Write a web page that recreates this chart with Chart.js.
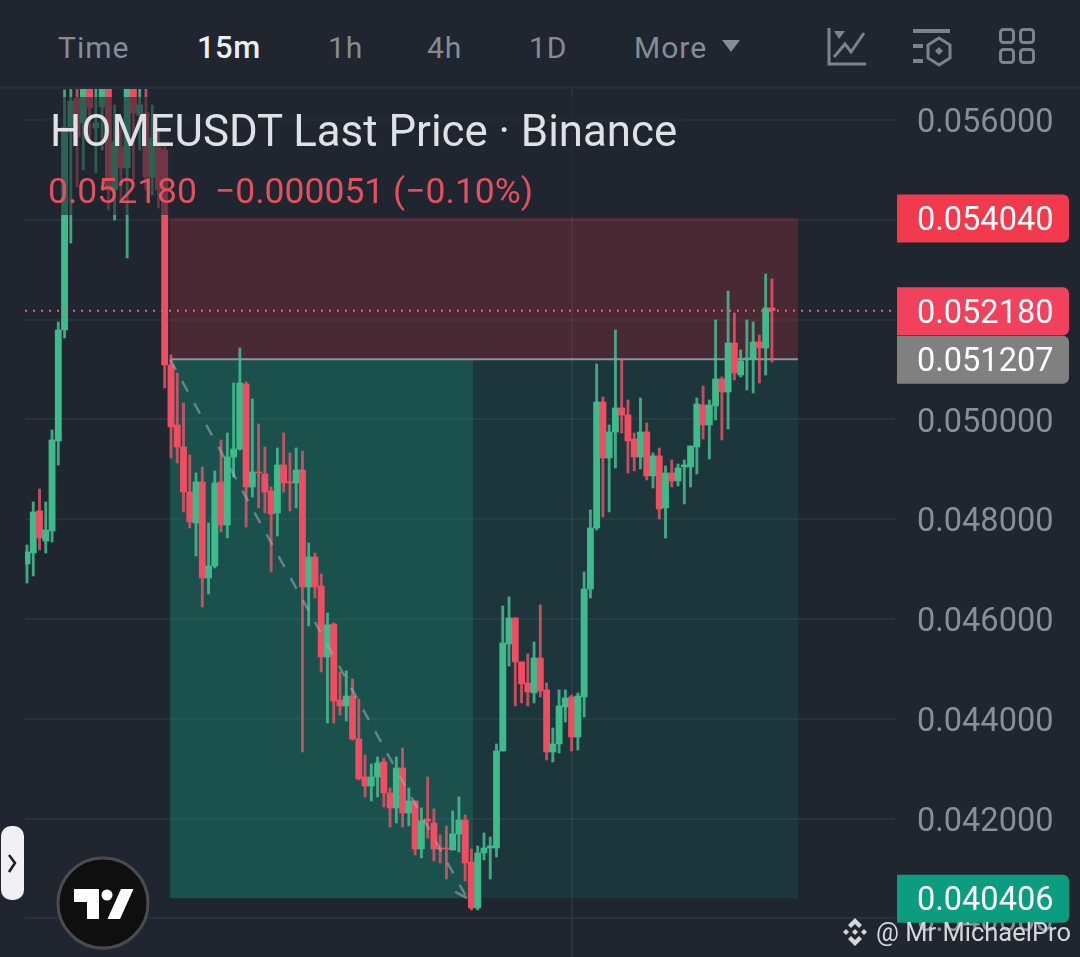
<!DOCTYPE html>
<html>
<head>
<meta charset="utf-8">
<title>HOMEUSDT</title>
<script src="https://cdn.jsdelivr.net/npm/chart.js@4/dist/chart.umd.min.js"></script>
<style>
  html, body { margin: 0; padding: 0; background: #1f2630; }
  #page { position: relative; width: 1080px; height: 957px; overflow: hidden; background: #1f2630; font-family: Roboto, sans-serif; }
  #priceChart { position: absolute; left: 0; top: 87px; }
  .tab { position: absolute; top: 30px; font-size: 30px; line-height: 36px; letter-spacing: 1px; color: #868c95; }
  .tab.active { color: #eceef1; font-size: 31px; font-weight: 500; letter-spacing: 0.5px; }
  #divider { position: absolute; left: 0; top: 86px; width: 1080px; height: 3px; background: #262d37; }
  #legendShade { position: absolute; left: 45px; top: 97px; width: 640px; height: 118px; background: rgba(31, 38, 48, 0.6); }
  #legendTitle { position: absolute; left: 50px; top: 107px; font-size: 43.8px; line-height: 48px; color: #dfe1e5; white-space: nowrap; }
  .legendValue { position: absolute; top: 172px; font-size: 35.5px; line-height: 38px; color: #e5505f; white-space: nowrap; }
  #handle { position: absolute; left: 1px; top: 826px; width: 23px; height: 74px; background: #f1f1f3; border-radius: 10px; }
  #watermark { position: absolute; left: 876px; top: 916px; font-size: 25.5px; line-height: 32px; color: #d4d6da; white-space: nowrap; }
  svg { position: absolute; left: 0; top: 0; }
</style>
</head>
<body>
<div id="page">
  <canvas id="priceChart" width="1080" height="870"></canvas>
  <div id="divider"></div>
  <div class="tab" style="left:58px">Time</div>
  <div class="tab active" style="left:197px">15m</div>
  <div class="tab" style="left:328px">1h</div>
  <div class="tab" style="left:427px">4h</div>
  <div class="tab" style="left:529px">1D</div>
  <div class="tab" style="left:634px">More</div>
  <div id="legendShade"></div>
  <div id="legendTitle">HOMEUSDT Last Price · Binance</div>
  <div class="legendValue" style="left:48px">0.052180</div>
  <div class="legendValue" style="left:215px">−0.000051 (−0.10%)</div>
  <div id="handle"></div>
  <div id="watermark">@ Mr MichaelPro</div>
  <svg width="1080" height="957" viewBox="0 0 1080 957" fill="none">
    <!-- toolbar icons -->
    <polygon points="722,40 740,40 731,52" fill="#868c95"/>
    <g stroke="#7d838c" stroke-width="3">
      <path d="M829 28V64H866"/>
      <path d="M834 57L845 44L851 52L864 33"/>
      <path d="M913 31H950M913 46H923M913 61H923" stroke-width="4"/>
      <path d="M939 38L950 45V58L939 65L928 58V45Z"/>
      <rect x="1000.5" y="29.5" width="13" height="13" rx="3"/>
      <rect x="1020.5" y="29.5" width="13" height="13" rx="3"/>
      <rect x="1000.5" y="49.5" width="13" height="13" rx="3"/>
      <rect x="1020.5" y="49.5" width="13" height="13" rx="3"/>
    </g>
    <polygon points="834,31 845,31 839,39" fill="#7d838c"/>
    <polygon points="939,47 943,51 939,55 935,51" fill="#7d838c"/>
    <!-- side handle chevron -->
    <path d="M9 855L15 863L9 872" stroke="#1b1b1d" stroke-width="2.5"/>
    <!-- logo -->
    <circle cx="103" cy="903" r="45" fill="#0f0f10" stroke="#4a4b4d" stroke-width="3"/>
    <path d="M74 889H99V919H87V902H74Z" fill="#fff"/>
    <circle cx="107" cy="895" r="5.5" fill="#fff"/>
    <path d="M121 889H133.5L120 919H107.5Z" fill="#fff"/>
    <!-- watermark mark -->
    <g fill="#d4d6da">
      <polygon points="855,918 862,925 859,928 855,924 851,928 848,925"/>
      <polygon points="855,946 848,939 851,936 855,940 859,936 862,939"/>
      <polygon points="846,929 849,932 846,935 843,932"/>
      <polygon points="864,929 867,932 864,935 861,932"/>
      <polygon points="855,929 858,932 855,935 852,932"/>
    </g>
  </svg>
</div>
<script>
// 15m candles, oldest first
const opens = [
  0.047104, 0.047325, 0.048167, 0.047565, 0.047766, 0.049569, 0.051794, 0.055862, 0.056443, 0.055942,
  0.056904, 0.055842, 0.056263, 0.056844, 0.054599, 0.055461, 0.055040, 0.056904, 0.056102, 0.056143,
  0.054860, 0.055461, 0.055401, 0.051092, 0.049890, 0.049449, 0.048547, 0.047926, 0.048748, 0.046824,
  0.047064, 0.048748, 0.047886, 0.049249, 0.049409, 0.050712, 0.048647, 0.048948, 0.048908, 0.048567,
  0.048127, 0.049088, 0.048748, 0.048728, 0.048988, 0.046643, 0.047245, 0.046664, 0.045241, 0.045902,
  0.044379, 0.044259, 0.044459, 0.043597, 0.042836, 0.042655, 0.042836, 0.043137, 0.042515, 0.042215,
  0.043016, 0.042114, 0.042355, 0.041393, 0.041994, 0.041914, 0.041413, 0.041413, 0.041373, 0.041693,
  0.041974, 0.041132, 0.040211, 0.041313, 0.041413, 0.041413, 0.043357, 0.045501, 0.046022, 0.045141,
  0.044720, 0.044519, 0.045220, 0.044580, 0.043337, 0.043497, 0.044239, 0.044439, 0.043637, 0.044439,
  0.046603, 0.047826, 0.050351, 0.049229, 0.049750, 0.050231, 0.050090, 0.049609, 0.049249, 0.049750,
  0.048868, 0.049269, 0.048227, 0.048928, 0.048768, 0.049048, 0.049048, 0.049449, 0.050291, 0.049890,
  0.050271, 0.050812, 0.050551, 0.051533, 0.050892, 0.051213, 0.051213, 0.051553, 0.051433, 0.052235
];
const highs = [
  0.047485, 0.048347, 0.048607, 0.048347, 0.049790, 0.051954, 0.056603, 0.056663, 0.056663, 0.057004,
  0.057004, 0.056643, 0.057004, 0.056904, 0.056303, 0.056002, 0.057004, 0.057004, 0.056643, 0.056643,
  0.056303, 0.055762, 0.055501, 0.051293, 0.050932, 0.050331, 0.049289, 0.048928, 0.049048, 0.047926,
  0.048968, 0.049589, 0.049730, 0.050732, 0.051433, 0.050752, 0.050411, 0.049910, 0.049449, 0.048647,
  0.049429, 0.049730, 0.049329, 0.049429, 0.049369, 0.047525, 0.047325, 0.046904, 0.046122, 0.045922,
  0.044940, 0.044960, 0.044800, 0.044399, 0.043277, 0.043096, 0.043237, 0.043217, 0.042615, 0.043237,
  0.043417, 0.042615, 0.042355, 0.042215, 0.042836, 0.042195, 0.041673, 0.041854, 0.042155, 0.042435,
  0.042074, 0.041393, 0.041453, 0.041714, 0.041633, 0.043497, 0.046263, 0.046443, 0.046022, 0.045141,
  0.045301, 0.045541, 0.046283, 0.044720, 0.043818, 0.044580, 0.044580, 0.044479, 0.044519, 0.046944,
  0.048187, 0.051112, 0.050451, 0.049890, 0.051794, 0.051193, 0.050391, 0.049730, 0.050431, 0.049930,
  0.049329, 0.049429, 0.049068, 0.049189, 0.049108, 0.049189, 0.049469, 0.050431, 0.050671, 0.050391,
  0.051994, 0.050852, 0.052575, 0.052134, 0.051393, 0.051994, 0.051954, 0.051693, 0.052916, 0.052816
];
const lows = [
  0.046724, 0.046864, 0.047385, 0.047325, 0.047545, 0.049088, 0.051634, 0.053537, 0.054659, 0.055000,
  0.055601, 0.054940, 0.055401, 0.054199, 0.053998, 0.054399, 0.053237, 0.054800, 0.055401, 0.054599,
  0.054499, 0.054239, 0.050631, 0.049229, 0.049128, 0.048147, 0.047826, 0.047265, 0.046243, 0.046503,
  0.047024, 0.047746, 0.047625, 0.048848, 0.049389, 0.047846, 0.048447, 0.048227, 0.048127, 0.046944,
  0.047666, 0.048547, 0.048167, 0.048227, 0.043337, 0.045862, 0.046423, 0.044940, 0.043918, 0.043918,
  0.044078, 0.043958, 0.043577, 0.042776, 0.042435, 0.042355, 0.042435, 0.042235, 0.041834, 0.041914,
  0.041834, 0.041854, 0.041272, 0.041212, 0.041613, 0.041152, 0.041112, 0.040791, 0.041373, 0.041333,
  0.040752, 0.040171, 0.040171, 0.041173, 0.040791, 0.041233, 0.043357, 0.045060, 0.044259, 0.044319,
  0.044259, 0.044319, 0.044439, 0.043177, 0.043137, 0.043317, 0.043938, 0.043357, 0.043377, 0.044038,
  0.046423, 0.047786, 0.048046, 0.048147, 0.049028, 0.049730, 0.048928, 0.048968, 0.049008, 0.048788,
  0.048627, 0.048006, 0.047625, 0.048647, 0.048667, 0.048307, 0.048647, 0.048908, 0.049609, 0.049209,
  0.049990, 0.049589, 0.049810, 0.050792, 0.050852, 0.050591, 0.050531, 0.050732, 0.050892, 0.051152
];
const closes = [
  0.047345, 0.048147, 0.047625, 0.047786, 0.049589, 0.051794, 0.055862, 0.056383, 0.055661, 0.056904,
  0.056243, 0.055942, 0.056904, 0.054599, 0.055561, 0.055040, 0.056904, 0.056143, 0.056303, 0.054860,
  0.055641, 0.054599, 0.051092, 0.049850, 0.049449, 0.048547, 0.047946, 0.048748, 0.046824, 0.047064,
  0.048728, 0.047886, 0.049249, 0.049409, 0.050732, 0.048647, 0.048948, 0.048928, 0.048547, 0.048106,
  0.049088, 0.048728, 0.048728, 0.048988, 0.046643, 0.047245, 0.046643, 0.045241, 0.045882, 0.044359,
  0.044259, 0.044459, 0.043597, 0.042796, 0.042655, 0.042836, 0.043117, 0.042515, 0.042215, 0.043016,
  0.042114, 0.042355, 0.041393, 0.041954, 0.041954, 0.041393, 0.041393, 0.041393, 0.041693, 0.041974,
  0.041112, 0.040211, 0.041313, 0.041413, 0.041453, 0.043357, 0.045521, 0.046022, 0.045141, 0.044700,
  0.044540, 0.045220, 0.044559, 0.043337, 0.043497, 0.044259, 0.044419, 0.043637, 0.044459, 0.046603,
  0.047826, 0.050351, 0.049229, 0.049750, 0.050231, 0.050090, 0.049569, 0.049249, 0.049750, 0.048868,
  0.049269, 0.048207, 0.048928, 0.048768, 0.049028, 0.049088, 0.049469, 0.050311, 0.049890, 0.050291,
  0.050812, 0.050551, 0.051533, 0.050932, 0.051173, 0.051233, 0.051553, 0.051433, 0.052235, 0.052180
];

// price axis
const yTickValues = [0.040, 0.042, 0.044, 0.046, 0.048, 0.050, 0.052, 0.054, 0.056];

// short position drawing: candle index where it starts, splits and ends
const stopPrice = 0.054040;
const entryPrice = 0.051207;
const targetPrice = 0.040406;
const lastPrice = 0.052180;
const positionStart = 22.85;
const positionSplit = 71.25;
const positionEnd = 123.15;

// dashed trade path inside the position
const pathX = [22.85, 70.3];
const pathY = [0.051207, 0.040406];
const pathTailX = [68.4, 70.3];
const pathTailY = [0.040531, 0.040406];

// vertical time grid line
const timeGridIndex = 87;

// price tags on the axis, last one on top
const tagValues = [0.054040, 0.040406, 0.051207, 0.052180];
const tagColors = ['#f23a4c', '#0c9c80', '#808080', '#f2415c'];

const UP = '#3dbb8a';
const DOWN = '#ee4d62';
const UP_WICK = 'rgba(72, 190, 145, 0.85)';
const DOWN_WICK = 'rgba(238, 85, 105, 0.8)';

const indexes = opens.map((_, i) => i);

// Shaded zones of the position, under the candles
const positionZones = {
  id: 'positionZones',
  beforeDatasetsDraw(chart) {
    const { ctx, scales: { x, y } } = chart;
    const left = x.getPixelForValue(positionStart);
    const split = x.getPixelForValue(positionSplit);
    const right = x.getPixelForValue(positionEnd);
    const top = y.getPixelForValue(stopPrice);
    const entry = y.getPixelForValue(entryPrice);
    const bottom = y.getPixelForValue(targetPrice);
    ctx.save();
    ctx.fillStyle = 'rgba(242, 54, 69, 0.2)';
    ctx.fillRect(left, top, right - left, entry - top);
    ctx.fillStyle = 'rgba(18, 140, 120, 0.42)';
    ctx.fillRect(left, entry, split - left, bottom - entry);
    ctx.fillStyle = 'rgba(18, 140, 120, 0.16)';
    ctx.fillRect(split, entry, right - split, bottom - entry);
    ctx.fillStyle = '#8f9496';
    ctx.fillRect(left, entry - 1, right - left, 2);
    ctx.restore();
  }
};

// Coloured price tags on the right axis
const priceTags = {
  id: 'priceTags',
  afterDraw(chart) {
    const { ctx, scales: { y } } = chart;
    ctx.save();
    ctx.font = '32.5px Roboto';
    ctx.textBaseline = 'middle';
    tagValues.forEach((value, i) => {
      const py = y.getPixelForValue(value);
      ctx.fillStyle = tagColors[i];
      ctx.beginPath();
      ctx.roundRect(897, py - 23.5, 172, 48, [0, 6, 6, 0]);
      ctx.fill();
      ctx.fillStyle = '#ffffff';
      ctx.fillText(value.toFixed(6), 917, py + 4);
    });
    ctx.restore();
  }
};

new Chart(document.getElementById('priceChart').getContext('2d'), {
  data: {
    datasets: [
      {
        type: 'line',
        order: 0,
        data: pathX.map((v, i) => ({ x: v, y: pathY[i] })),
        borderColor: 'rgba(165, 175, 178, 0.55)',
        borderWidth: 2.5,
        borderDash: [12, 13],
        pointRadius: 0
      },
      {
        type: 'line',
        order: 0,
        data: pathTailX.map((v, i) => ({ x: v, y: pathTailY[i] })),
        borderColor: 'rgba(165, 175, 178, 0.55)',
        borderWidth: 2.5,
        pointRadius: 0
      },
      {
        type: 'line',
        order: 0,
        data: [{ x: -0.32, y: lastPrice }, { x: 138.66, y: lastPrice }],
        borderColor: '#ee5f72',
        borderWidth: 2,
        borderDash: [2, 6],
        pointRadius: 0
      },
      {
        type: 'bar',
        order: 1,
        grouped: false,
        data: indexes.map(i => ({ x: i, y: [opens[i], closes[i]] })),
        backgroundColor: indexes.map(i => closes[i] >= opens[i] ? UP : DOWN),
        barThickness: 6.2,
        borderWidth: 0
      },
      {
        type: 'bar',
        order: 2,
        grouped: false,
        data: indexes.map(i => ({ x: i, y: [lows[i], highs[i]] })),
        backgroundColor: indexes.map(i => closes[i] >= opens[i] ? UP_WICK : DOWN_WICK),
        barThickness: 2.2,
        borderWidth: 0
      }
    ]
  },
  options: {
    responsive: false,
    animation: false,
    layout: { padding: { left: 25, right: 0, top: 0, bottom: 0 } },
    plugins: { legend: { display: false }, tooltip: { enabled: false } },
    scales: {
      x: {
        type: 'linear',
        offset: false,
        min: -0.32,
        max: 138.66,
        afterBuildTicks(scale) { scale.ticks = [{ value: timeGridIndex }]; },
        ticks: { display: false },
        border: { display: false },
        grid: { offset: false, color: 'rgba(255, 255, 255, 0.05)', lineWidth: 2, drawTicks: false }
      },
      y: {
        position: 'right',
        min: 0.039228,
        max: 0.056663,
        afterBuildTicks(scale) { scale.ticks = yTickValues.map(value => ({ value })); },
        afterFit(scale) {
          scale.width = 185;
          scale.paddingTop = 0;
          scale.paddingBottom = 0;
        },
        ticks: {
          padding: 22,
          labelOffset: 4,
          color: '#8a8f97',
          font: { family: 'Roboto', size: 32.5 },
          callback: value => value.toFixed(6)
        },
        border: { display: false },
        grid: { color: 'rgba(255, 255, 255, 0.05)', lineWidth: 2, drawTicks: false }
      }
    }
  },
  plugins: [positionZones, priceTags]
});
</script>
</body>
</html>
